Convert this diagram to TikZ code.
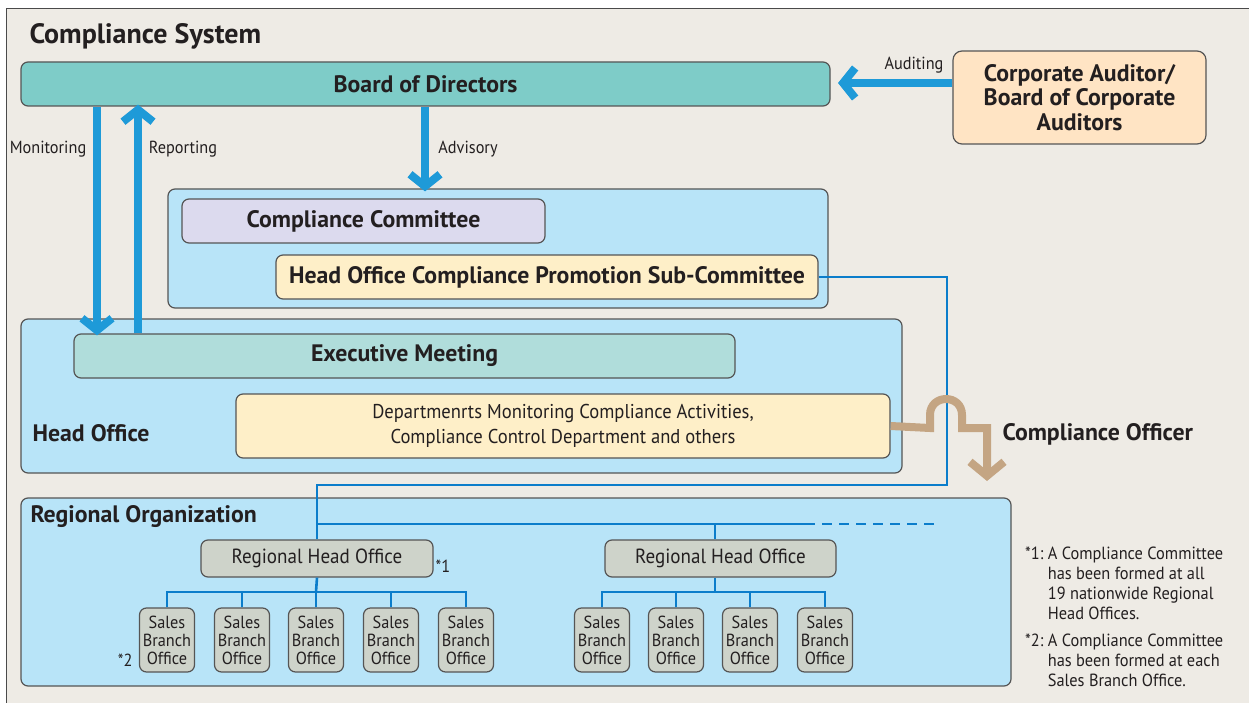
\documentclass[tikz,border=0pt]{standalone}
\usepackage{fontspec}
\setmainfont{PT Sans}[FakeStretch=0.93]
\newfontfamily\boldfam{PT Sans}
\usetikzlibrary{arrows.meta}
\definecolor{bgc}{HTML}{EEEBE5}
\definecolor{frame}{HTML}{4A4A4A}
\definecolor{boxline}{HTML}{555555}
\definecolor{txt}{HTML}{231F20}
\definecolor{teal}{HTML}{7ECCC8}
\definecolor{peach}{HTML}{FFE4C4}
\definecolor{lblue}{HTML}{B8E4F8}
\definecolor{lav}{HTML}{DCDAEE}
\definecolor{cream}{HTML}{FEEFC8}
\definecolor{exec}{HTML}{B0DDDB}
\definecolor{rgray}{HTML}{CED3CA}
\definecolor{abl}{HTML}{1E9AD8}
\definecolor{lbl}{HTML}{0B7DCB}
\definecolor{tan}{HTML}{C4A583}
\begin{document}
\begin{tikzpicture}[x=1pt,y=-1pt,
  bx/.style={draw=boxline, line width=1.2pt, rounded corners=7pt, inner sep=0pt, text=txt, align=center},
  bold/.style={font={\boldfam\fontsize{23.8}{24.5}\selectfont\bfseries}},
  reg/.style={font={\fontsize{20}{25}\selectfont}},
  small/.style={font={\fontsize{17.5}{20}\selectfont}, text=txt},
  fnote/.style={font={\fontsize{17.6}{20}\selectfont}, text=txt},
  sbox/.style={bx, fill=rgray, minimum width=55, minimum height=64, font={\fontsize{17.5}{18}\selectfont}},
  barrow/.style={draw=abl, line width=8pt, -{Straight Barb[length=12pt,width=30pt]}},
  bline/.style={draw=lbl, line width=2.6pt},
  tarrow/.style={draw=tan, line width=8pt, -{Straight Barb[length=14pt,width=34pt]}}
]
\useasboundingbox (0,0) rectangle (1249,703);
\fill[white] (0,0) rectangle (1249,703);
\filldraw[fill=bgc, draw=frame, line width=1.5pt] (6.3,8.3) rectangle (1275,725);

\node[anchor=west, text=txt, font={\boldfam\fontsize{28}{30}\selectfont\bfseries}] (title) at (26,36) {Compliance System};

% top boxes
\node[bx, bold, fill=teal, minimum width=809, minimum height=44] (bod) at (425.5,84) {Board of Directors};
\node[bx, bold, fill=peach, minimum width=253, minimum height=93, rounded corners=9pt] (aud) at (1079.5,97.5) {Corporate Auditor/\\Board of Corporate\\Auditors};

% upper container
\node[bx, fill=lblue, minimum width=660, minimum height=119] (upper) at (498,248.5) {};
\node[bx, bold, fill=lav, minimum width=363, minimum height=44] (cc) at (363.5,221) {Compliance Committee};
\node[bx, bold, fill=cream, minimum width=542, minimum height=44] (sub) at (547,277) {Head Office Compliance Promotion Sub-Committee};

% head office
\node[bx, fill=lblue, minimum width=881, minimum height=154] (ho) at (461.5,396) {};
\node[bx, bold, fill=exec, minimum width=661, minimum height=44] (exm) at (404.5,356) {Executive Meeting};
\node[bx, reg, fill=cream, minimum width=654, minimum height=64] (dep) at (563,426) {Departmenrts Monitoring Compliance Activities,\\Compliance Control Department and others};
\node[anchor=west, bold, text=txt] (holbl) at (29,433) {Head Office};

% regional organization
\node[bx, fill=lblue, minimum width=990, minimum height=188] (reg) at (516,592) {};
\node[anchor=west, bold, text=txt] (reglbl) at (27,517) {Regional Organization};
\node[bx, reg, font={\fontsize{20.5}{25}\selectfont}, fill=rgray, minimum width=232, minimum height=37] (rho1) at (317,558.5) {Regional Head Office};
\node[bx, reg, font={\fontsize{20.5}{25}\selectfont}, fill=rgray, minimum width=231, minimum height=37] (rho2) at (720.5,558.5) {Regional Head Office};
\node[anchor=west, small] (n1) at (432,566) {*1};
\node[anchor=east, small] (n2) at (136,660) {*2};

\foreach \i/\x in {1/167,2/242,3/316,4/391,5/466} {
  \node[sbox] (s\i) at (\x,640) {Sales\\Branch\\Office};
}
\foreach \i/\x in {6/602,7/676,8/750,9/825} {
  \node[sbox] (s\i) at (\x,640) {Sales\\Branch\\Office};
}

% coordinates
\coordinate (b1) at (316,592);
\coordinate (b2) at (715,592);
\coordinate (j1) at (317,524);
\coordinate (j2) at (715,524);
\coordinate (j3) at (805,524);
\coordinate (j4) at (938,524);
\coordinate (r1) at (947,277);
\coordinate (r2) at (947,485);
\coordinate (r3) at (317,485);

% blue connector lines
\draw[bline] (sub.east) -- (r1) -- (r2) -- (r3) -- (rho1.north);
\draw[bline] (j1) -- (j3);
\draw[bline, dash pattern=on 10pt off 7pt] (j3) -- (j4);
\draw[bline] (j2) -- (rho2.north -| j2);
\draw[bline] (rho1.south) -- (b1);
\draw[bline] (s1.north) |- (s5.north |- b1) -- (s5.north);
\foreach \i in {2,3,4} {\draw[bline] (s\i.north) -- (s\i.north |- b1);}
\draw[bline] (rho2.south -| b2) -- (b2);
\draw[bline] (s6.north) |- (s9.north |- b2) -- (s9.north);
\foreach \i in {7,8} {\draw[bline] (s\i.north) -- (s\i.north |- b2);}

% big blue arrows
\coordinate (mon) at (97,0);
\coordinate (rep) at (138,0);
\coordinate (adv) at (425,0);
\draw[barrow] (bod.south -| mon) -- ([yshift=-2pt]exm.north -| mon);
\draw[barrow] (exm.north -| rep) -- ([yshift=2pt]bod.south -| rep);
\draw[barrow] (bod.south -| adv) -- ([yshift=-3pt]upper.north -| adv);
\draw[barrow] (aud.west |- 0,83) -- (838,83);

\node[small] (monl) at (48,149) {Monitoring};
\node[small] (repl) at (183,149) {Reporting};
\node[small] (advl) at (468,149) {Advisory};
\node[small] (audl) at (914,65) {Auditing};

% compliance officer arrow
\draw[tarrow] (dep.east) -- (930,428) -- (930,415) .. controls (930,393.7) and (962,393.7) .. (962,415) -- (962,428) -- (987,428) -- (987,481);
\node[anchor=west, bold, text=txt] (co) at (999,434) {Compliance Officer};

% footnotes
\node[anchor=north west, fnote, inner sep=0pt] (fn1) at (1025,545) {\begin{tabular}{@{}l@{\ }l@{}}*1: & A Compliance Committee\\ & has been formed at all\\ & 19 nationwide Regional\\ & Head Offices.\end{tabular}};
\node[anchor=north west, fnote, inner sep=0pt] (fn2) at (1025,632) {\begin{tabular}{@{}l@{\ }l@{}}*2: & A Compliance Committee\\ & has been formed at each\\ & Sales Branch Office.\end{tabular}};
\end{tikzpicture}
\end{document}
